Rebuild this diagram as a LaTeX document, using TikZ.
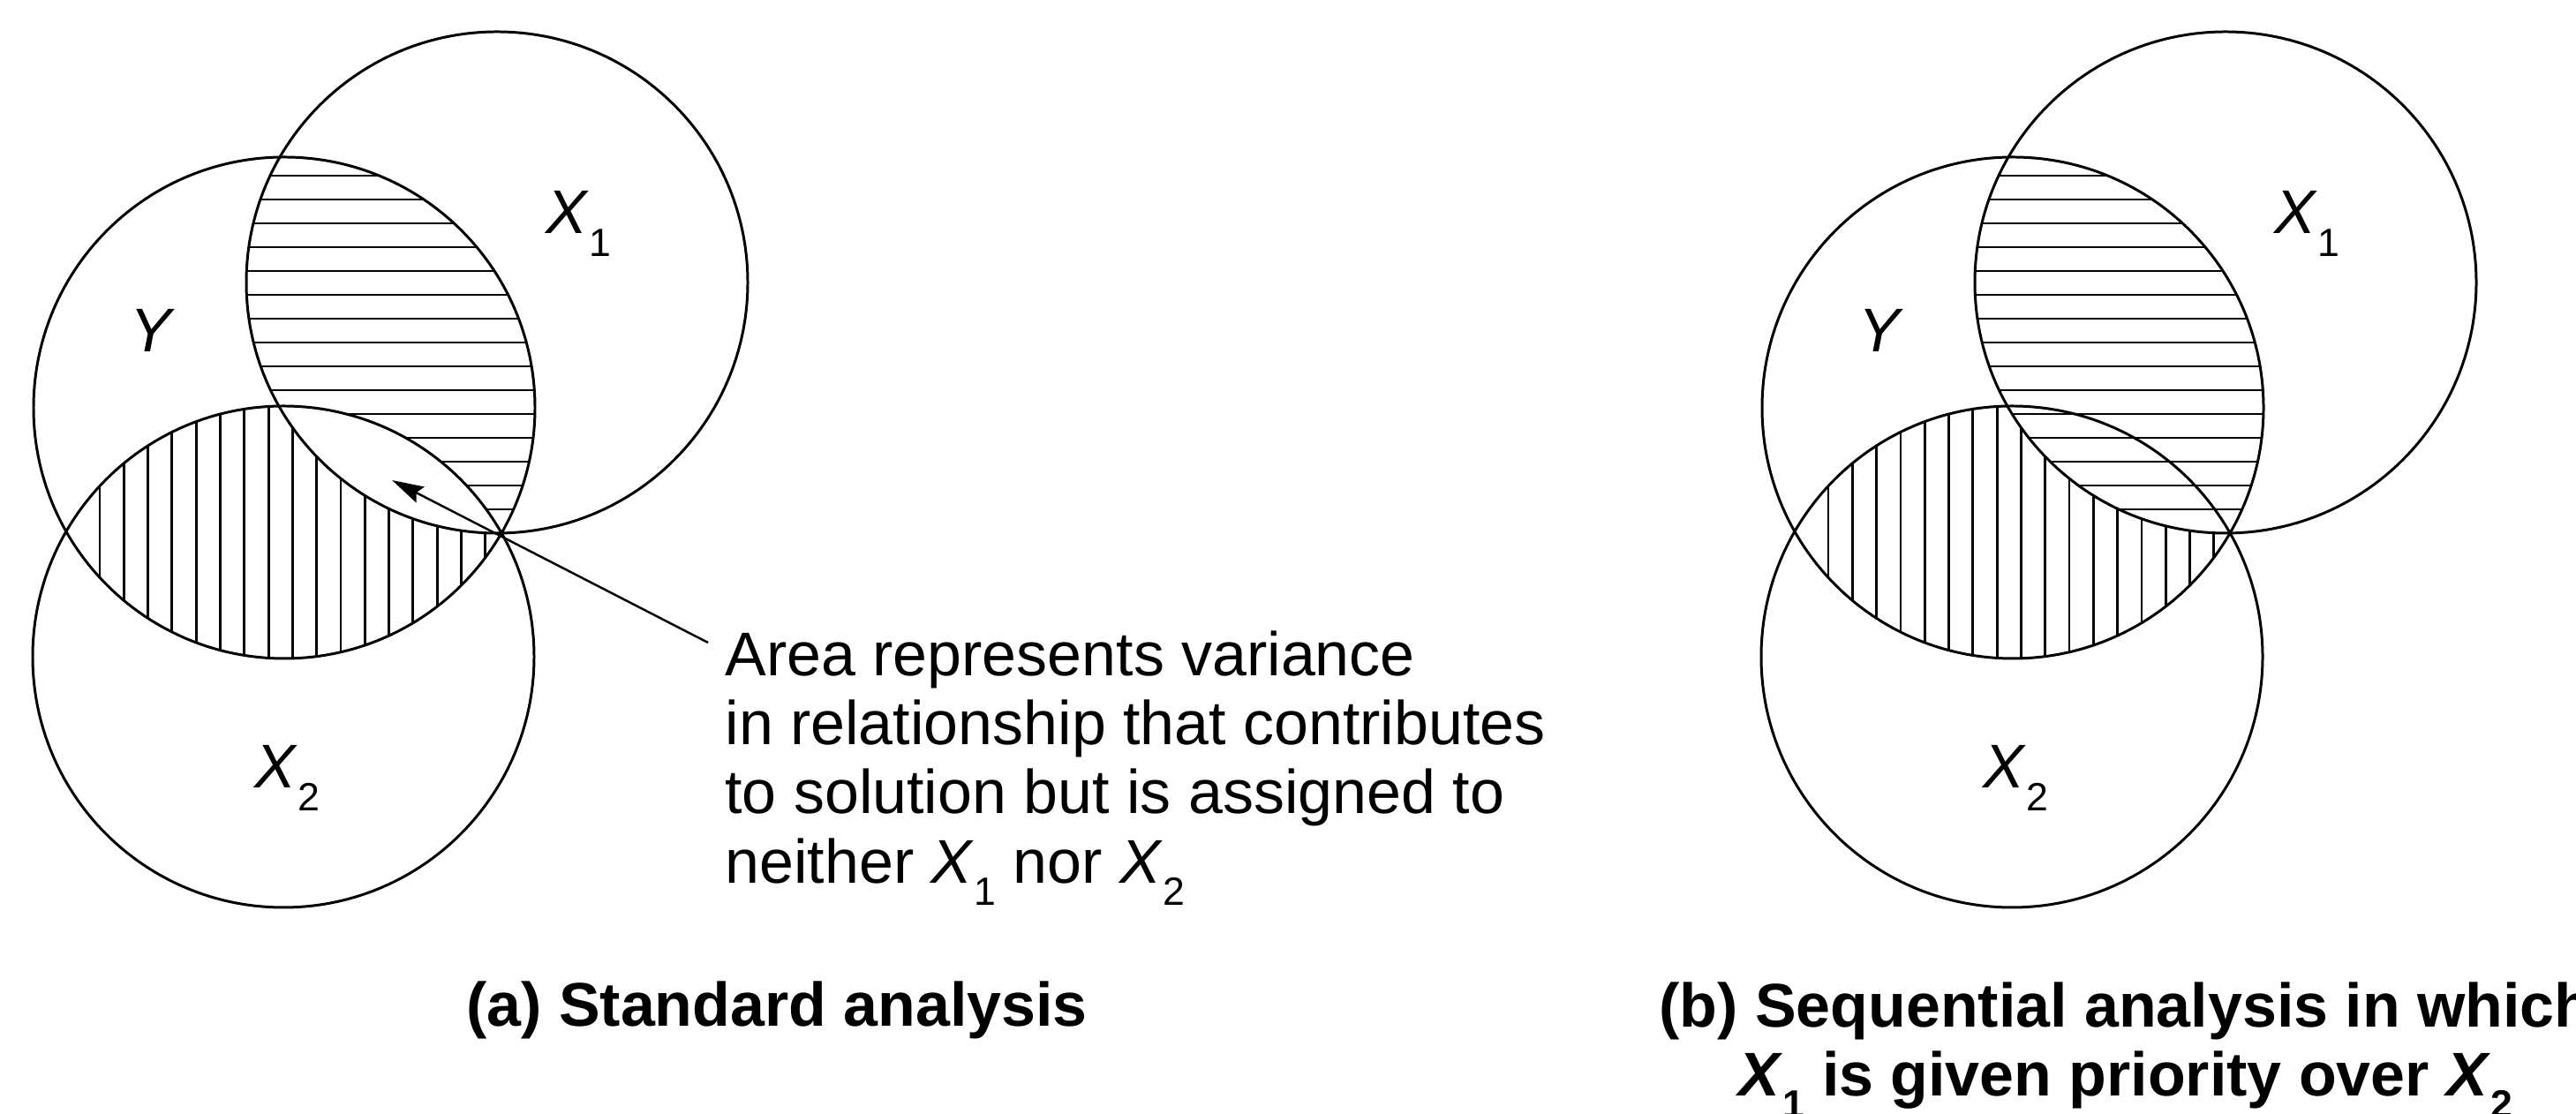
\documentclass[tikz,border=0pt]{standalone}
\usepackage{fontspec}
\setmainfont{Liberation Sans}
\usetikzlibrary{arrows.meta}
\newcommand{\xsub}[1]{\textit{X}\raisebox{-0.36em}{\fontsize{12.7}{12.7}\selectfont #1}}
\tikzset{hatch/.style={line width=0.8pt}, label/.style={anchor=base west, inner sep=0pt}}

\begin{document}
\begin{tikzpicture}[line width=0.85pt]\fontsize{19.9}{22.3}\selectfont
\useasboundingbox (0,0) rectangle (29.18,12.62);
% circle centres, panel (a) and panel (b)
\coordinate (Ya) at (3.22,8.00);
\coordinate (X1a) at (5.63,9.42);
\coordinate (X2a) at (3.21,5.18);
\coordinate (Yb) at (22.80,8.00);
\coordinate (X1b) at (25.21,9.42);
\coordinate (X2b) at (22.79,5.18);
% (a) Y and X1 without X2
\begin{scope}[even odd rule]
\clip (Ya) circle (2.84);
\clip (X1a) circle (2.84);
\clip (X2a) circle (2.84) (0,0) rectangle (29.18,12.62);
\foreach \k in {0,...,16} \draw[hatch] (0,{10.63-0.27*\k}) -- (12,{10.63-0.27*\k});
\end{scope}
% (a) Y and X2 without X1
\begin{scope}[even odd rule]
\clip (Ya) circle (2.84);
\clip (X2a) circle (2.84);
\clip (X1a) circle (2.84) (0,0) rectangle (29.18,12.62);
\foreach \k in {0,...,17} \draw[hatch] ({1.13+0.273*\k},0) -- ({1.13+0.273*\k},12.62);
\end{scope}
% (b) Y and X1
\begin{scope}
\clip (Yb) circle (2.84);
\clip (X1b) circle (2.84);
\foreach \k in {0,...,16} \draw[hatch] (18,{10.63-0.27*\k}) -- (29,{10.63-0.27*\k});
\end{scope}
% (b) Y and X2 without X1
\begin{scope}[even odd rule]
\clip (Yb) circle (2.84);
\clip (X2b) circle (2.84);
\clip (X1b) circle (2.84) (0,0) rectangle (29.18,12.62);
\foreach \k in {0,...,17} \draw[hatch] ({20.71+0.273*\k},0) -- ({20.71+0.273*\k},12.62);
\end{scope}
\foreach \c in {Ya,X1a,X2a,Yb,X1b,X2b} \draw (\c) circle (2.84);
% labels
\node[label] (ya) at (1.46,8.63) {\textit{Y}};
\node[label] (x1a) at (6.17,9.97) {\xsub{1}};
\node[label] (x2a) at (2.87,3.69) {\xsub{2}};
\node[label] (yb) at (21.04,8.63) {\textit{Y}};
\node[label] (x1b) at (25.75,9.97) {\xsub{1}};
\node[label] (x2b) at (22.45,3.69) {\xsub{2}};
% note and arrow
\node[anchor=north west, inner sep=0pt, align=left] (note) at (8.20,5.49)
  {Area represents variance\\in relationship that contributes\\to solution but is assigned to\\neither \xsub{1} nor \xsub{2}};
\coordinate (tip) at (4.44,7.18);
\draw[line width=0.7pt, -{Stealth[length=0.36cm, width=0.2cm, inset=0.05cm]}] ([xshift=-0.18cm, yshift=-0.15cm]note.north west) -- (tip);
% captions
\node[anchor=base, inner sep=0pt, font=\bfseries] (capa) at (8.80,0.99) {(a) Standard analysis};
\node[anchor=north, inner sep=0pt, align=center, font=\bfseries] (capb) at (24.08,1.51)
  {(b) Sequential analysis in which\\\xsub{1} is given priority over \xsub{2}};
\end{tikzpicture}
\end{document}
